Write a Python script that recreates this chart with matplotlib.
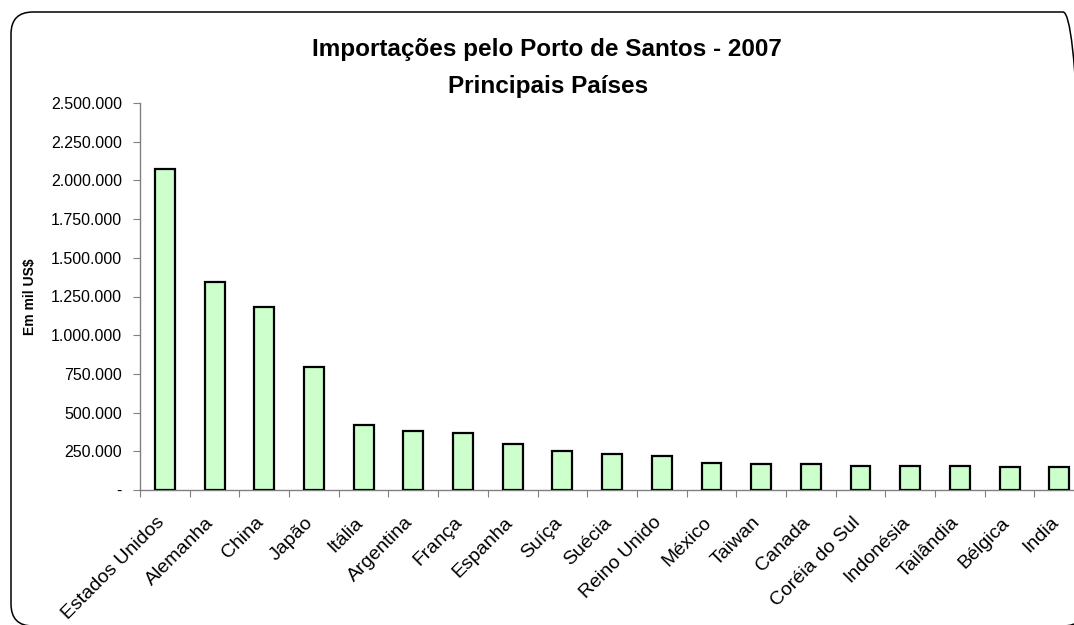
import matplotlib.pyplot as plt
from matplotlib.patches import FancyBboxPatch
from matplotlib.ticker import FuncFormatter, MultipleLocator
from matplotlib.transforms import ScaledTranslation
import numpy as np

plt.rcParams['font.family'] = ['Liberation Sans', 'DejaVu Sans']

# Importações por país de origem, em mil US$
paises = ['Estados Unidos', 'Alemanha', 'China', 'Japão', 'Itália', 'Argentina',
          'França', 'Espanha', 'Suíça', 'Suécia', 'Reino Unido', 'México',
          'Taiwan', 'Canada', 'Coréia do Sul', 'Indonésia', 'Tailândia',
          'Bélgica', 'India']
valores = [2073000, 1344000, 1184000, 797000, 422000, 381000, 368000,
           295000, 252000, 233000, 218000, 174000, 170000, 166000,
           157000, 157000, 157000, 147000, 147000]


def milhar(x, pos):
    # formato brasileiro, zero vira traço
    if x == 0:
        return '-'
    return f'{x:,.0f}'.replace(',', '.')


fig = plt.figure(figsize=(10.74, 6.25), dpi=100)
ax = fig.add_axes([0.1304, 0.216, 0.879, 0.6192])

x = np.arange(len(paises))
ax.bar(x, valores, width=0.4, color='#CCFFCC', edgecolor='black', linewidth=1.6, zorder=3)

ax.set_xlim(-0.5, len(paises) - 0.5)
ax.set_ylim(0, 2500000)
ax.yaxis.set_major_locator(MultipleLocator(250000))
ax.yaxis.set_major_formatter(FuncFormatter(milhar))

# ticks do eixo x nas divisas entre categorias
ax.set_xticks(np.arange(-0.5, len(paises), 1.0))
ax.set_xticklabels([])
ax.tick_params(axis='x', direction='out', length=5, color='#808080')
ax.tick_params(axis='y', direction='out', length=5, color='#808080', labelsize=11.5, pad=8)

# nomes dos países inclinados, abaixo do eixo
desloc = ScaledTranslation(-0.03, -0.30, fig.dpi_scale_trans)
for i, nome in zip(x, paises):
    ax.text(i, 0, nome, rotation=45, ha='right', va='center', rotation_mode='anchor',
            fontsize=14, transform=ax.get_xaxis_transform() + desloc)

for side in ['top', 'right']:
    ax.spines[side].set_visible(False)
for side in ['left', 'bottom']:
    ax.spines[side].set_color('#808080')
    ax.spines[side].set_linewidth(1.0)

fig.text(0.028, 0.526, 'Em mil US$', rotation=90, ha='center', va='center',
         fontsize=10, fontweight='bold')

fig.text(0.509, 0.9104, 'Importações pelo Porto de Santos - 2007', ha='center', va='baseline',
         fontsize=17.5, fontweight='bold')
fig.text(0.51, 0.8512, 'Principais Países', ha='center', va='baseline',
         fontsize=17.5, fontweight='bold')

# moldura arredondada em volta do gráfico
moldura = FancyBboxPatch((0.11, -0.01), 10.74, 6.14,
                         boxstyle='round,pad=0,rounding_size=0.22',
                         transform=fig.dpi_scale_trans, facecolor='none',
                         edgecolor='black', linewidth=1.1, clip_on=False)
fig.patches.append(moldura)

fig.savefig('out.png', dpi=100)
